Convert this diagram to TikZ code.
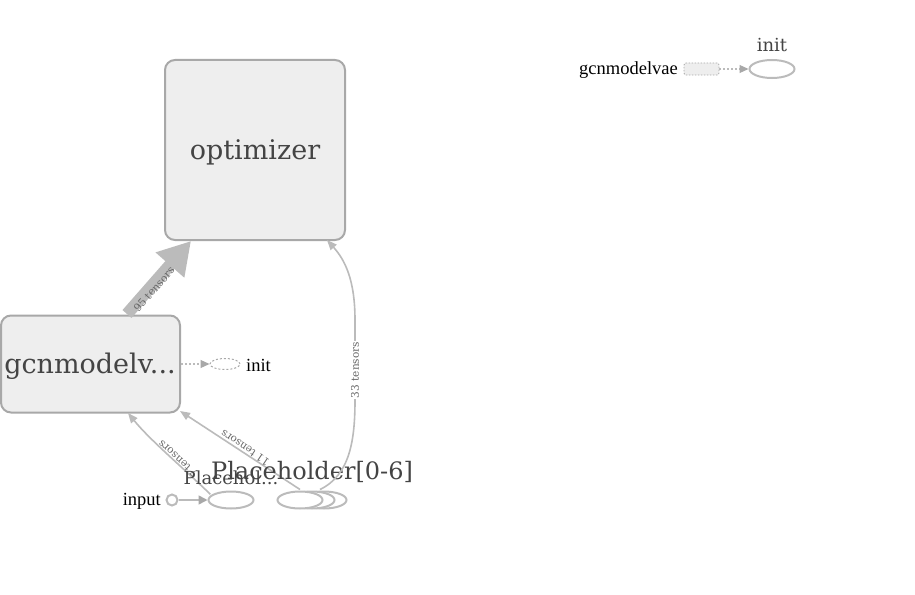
\documentclass[tikz,border=0pt]{standalone}
\usepackage{fontspec}
\newfontfamily\djs{DejaVu Serif}
\newfontfamily\lbs{Liberation Serif}
\usetikzlibrary{shapes.geometric,arrows.meta}
\definecolor{boxfill}{HTML}{EEEEEE}
\definecolor{boxline}{HTML}{A8A8A8}
\definecolor{edgec}{HTML}{BBBBBB}
\definecolor{txt}{HTML}{444444}
\definecolor{lbl}{HTML}{666666}
\begin{document}
\begin{tikzpicture}[x=1pt,y=-1pt,
  groupbox/.style={draw=boxline,fill=boxfill,line width=2pt,rounded corners=10pt,inner sep=0pt},
  grouptxt/.style={text=txt,font=\djs\fontsize{27}{29}\selectfont,inner sep=0pt},
  opnode/.style={ellipse,draw=edgec,fill=white,line width=2pt,inner sep=0pt,minimum width=45pt,minimum height=17pt},
  edge/.style={draw=edgec,line width=1.6pt,-{Triangle[length=10pt,width=8pt]}},
  dotedge/.style={draw=edgec,line width=1.2pt,dash pattern=on 2pt off 2pt,-{Triangle[length=9pt,width=8pt,color=boxline]}},
  elbl/.style={font=\djs\fontsize{10.5}{12}\selectfont,text=lbl,inner sep=1pt},
  smalltxt/.style={font=\lbs\fontsize{18.5}{20}\selectfont,text=black,inner sep=0pt},
  bigtxt/.style={font=\djs\fontsize{18}{20}\selectfont,text=txt,inner sep=0pt}
]
\useasboundingbox (0,0) rectangle (915,594);
% group nodes
\node[groupbox,minimum width=180pt,minimum height=180pt] (opt) at (255,150) {};
\node[grouptxt] (optt) at (255,152) {optimizer};
\node[groupbox,minimum width=179pt,minimum height=97pt] (gcn) at (90.5,364) {};
\node[grouptxt] (gcnt) at (90,366) {gcnmodelv...};
% thick edge
\coordinate (t95a) at (127,314);
\coordinate (t95b) at (191,241);
\draw[edgec,line width=12pt,-{Triangle[length=32pt,width=36pt]}] (t95a) -- (t95b);
\node[elbl,rotate=49] (l95) at (154,289) {95 tensors};
% init near gcn
\node[ellipse,draw=boxline,line width=1pt,dash pattern=on 2pt off 2pt,minimum width=30pt,minimum height=11pt,inner sep=0pt] (init1) at (225,364) {};
\draw[dotedge] (gcn.east) -- (init1.west);
\node[smalltxt,anchor=west] (init1t) at (246,365) {init};
% Placeholder stack
\node[opnode] (p2) at (324,500) {};
\node[opnode] (p1) at (312,500) {};
\node[opnode] (p0) at (300,500) {};
% Placehol...
\node[opnode] (ph) at (231,500) {};
\node[circle,draw=edgec,line width=2pt,minimum size=11pt,inner sep=0pt] (inp) at (172,500) {};
\node[smalltxt,anchor=east] (inpt) at (161,501) {input};
\draw[draw=edgec,line width=1.6pt,-{Triangle[length=9pt,width=9pt,color=boxline]}] (inp.east) -- (ph.west);
% edges to gcn
\coordinate (g1) at (128,413);
\coordinate (g2) at (180,411);
\draw[edge] (ph.north west) ++(-4,1) coordinate (phs) .. controls (180,465) and (150,440) .. (g1);
\node[elbl,rotate=138] (l7) at (178,459) {7 tensors};
\draw[edge] (p0.north) ++(0,-1) coordinate (p0s) -- (g2);
\node[elbl,rotate=146] (l11) at (245,448) {11 tensors};
\node[bigtxt] (pht) at (231,478) {Placehol...};
\node[font=\djs\fontsize{24}{26}\selectfont,text=txt,inner sep=0pt] (pl) at (312,472) {Placeholder[0-6]};
% 33 tensors curve
\coordinate (o33) at (327,240);
\draw[edge] (p1.north) ++(8,-1) coordinate (p1s) .. controls (350,475) and (355,440) .. (355,400) -- (355,320) .. controls (355,280) and (345,260) .. (o33);
\node[elbl,rotate=90,fill=white] (l33) at (355,370) {33 tensors};
% top right
\node[draw=boxline,fill=boxfill,line width=0.8pt,dash pattern=on 1.5pt off 1.5pt,rounded corners=2pt,minimum width=35pt,minimum height=12pt,inner sep=0pt] (gv) at (701.5,69) {};
\node[smalltxt,anchor=east] (gvt) at (678,70) {gcnmodelvae};
\node[opnode,minimum width=45pt,minimum height=18pt] (init2) at (772,69) {};
\node[bigtxt] (init2t) at (772,45) {init};
\draw[dotedge] (gv.east) -- (init2.west);
\end{tikzpicture}
\end{document}
